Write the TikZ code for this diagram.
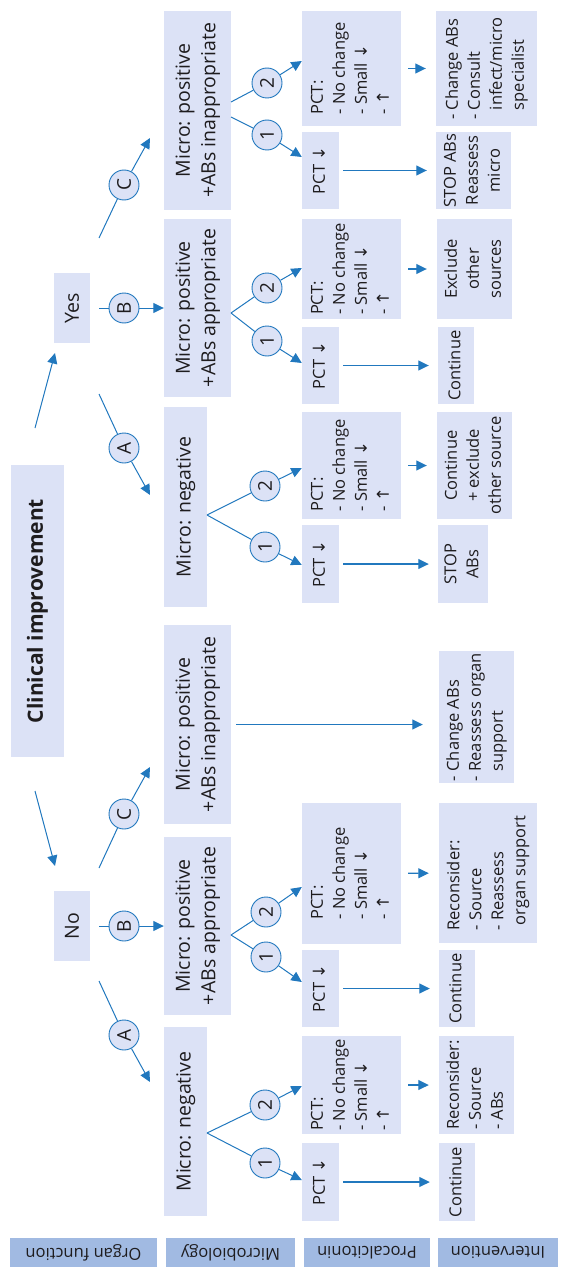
\documentclass[tikz,border=0pt]{standalone}
\usepackage{fontspec}
\setmainfont{Open Sans}
\newfontfamily\arrowsfont{DejaVu Sans}
\usepackage{graphicx}
\usetikzlibrary{arrows.meta}
\definecolor{boxfill}{RGB}{220,226,246}
\definecolor{labfill}{RGB}{161,186,226}
\definecolor{linecol}{RGB}{33,120,190}
\definecolor{txtcol}{RGB}{30,28,30}
\newcommand{\arrdn}{{\arrowsfont ↓}}
\newcommand{\arrup}{{\arrowsfont ↑}}
\newcommand{\hangsp}{\phantom{- }}
% text block turned to read upwards
\newcommand{\vtext}[2]{\rotatebox{90}{\begin{tabular}{@{}#1@{}}#2\end{tabular}}}
% box from its x and y extent: style, name, x1, x2, y1, y2, content
\newcommand{\placebox}[7]{%
  \pgfmathsetmacro{\bw}{#4-#3}\pgfmathsetmacro{\bh}{#6-#5}%
  \pgfmathsetmacro{\bcx}{(#3+#4)/2}\pgfmathsetmacro{\bcy}{(#5+#6)/2}%
  \node[#1, minimum width=\bw pt, minimum height=\bh pt] (#2) at (\bcx,\bcy) {#7};}
\begin{document}
\begin{tikzpicture}[x=1pt, y=-1pt,
  box/.style={fill=boxfill, inner sep=0pt, text=txtcol},
  lab/.style={fill=labfill, inner sep=0pt, text=txtcol, small},
  big/.style={font=\fontsize{19.5}{25.5}\selectfont},
  small/.style={font=\fontsize{16.5}{22}\selectfont},
  title/.style={font=\fontsize{21}{25}\selectfont\bfseries},
  circ/.style={circle, draw=linecol, fill=boxfill, line width=0.9pt, minimum size=30pt, inner sep=0pt, text=txtcol, font=\fontsize{19}{22}\selectfont},
  conn/.style={draw=linecol, line width=1pt},
  arr/.style={conn, -{Triangle[length=10.5pt,width=10pt]}},
  warr/.style={arr, line width=1.3pt, shorten <=4pt, shorten >=9pt},
  sarr/.style={arr, line width=1.3pt, shorten <=7pt, shorten >=10pt}]
\useasboundingbox (0,0) rectangle (560,1268);

% ---- first column: outcome ----
\placebox{box,title}{ci}{11}{64}{465}{757}{\rotatebox{90}{Clinical improvement}}
\placebox{box,big}{yes}{54}{90}{273}{343}{\rotatebox{90}{Yes}}
\placebox{box,big}{no}{54}{90}{891}{961}{\rotatebox{90}{No}}

\coordinate (ciYs) at (35,428); \coordinate (ciYe) at (55,353);
\coordinate (ciNs) at (35,791); \coordinate (ciNe) at (55,866);
\draw[arr] (ciYs) -- (ciYe);
\draw[arr] (ciNs) -- (ciNe);

% ---- microbiology ----
\placebox{box,big}{mYC}{164}{231}{11}{210}{\vtext{c}{Micro: positive\\+ABs inappropriate}}
\placebox{box,big}{mYB}{164}{231}{219}{397}{\vtext{c}{Micro: positive\\+ABs appropriate}}
\placebox{box,big}{mYA}{164}{207}{407}{607}{\vtext{c}{Micro: negative}}
\placebox{box,big}{mNC}{164}{231}{625}{824}{\vtext{c}{Micro: positive\\+ABs inappropriate}}
\placebox{box,big}{mNB}{164}{231}{837}{1015}{\vtext{c}{Micro: positive\\+ABs appropriate}}
\placebox{box,big}{mNA}{164}{207}{1027}{1216}{\vtext{c}{Micro: negative}}

% A / B / C branches
\node[circ] (yC) at (124,185) {\rotatebox{90}{C}};
\node[circ] (yB) at (124,308) {\rotatebox{90}{B}};
\node[circ] (yA) at (124,448) {\rotatebox{90}{A}};
\node[circ] (nC) at (124,814) {\rotatebox{90}{C}};
\node[circ] (nB) at (124,926) {\rotatebox{90}{B}};
\node[circ] (nA) at (124,1035) {\rotatebox{90}{A}};

\coordinate (yCs) at (99,238);  \coordinate (yCe) at (150,138);
\coordinate (yBs) at (99,308);
\coordinate (yAs) at (99,394);  \coordinate (yAe) at (150,495);
\coordinate (nCs) at (99,868);  \coordinate (nCe) at (150,767);
\coordinate (nBs) at (99,926);
\coordinate (nAs) at (99,981);  \coordinate (nAe) at (150,1082);

\draw[conn] (yCs) -- (yC); \draw[arr] (yC) -- (yCe);
\draw[conn] (yBs) -- (yB); \draw[arr] (yB) -- (mYB.west);
\draw[conn] (yAs) -- (yA); \draw[arr] (yA) -- (yAe);
\draw[conn] (nCs) -- (nC); \draw[arr] (nC) -- (nCe);
\draw[conn] (nBs) -- (nB); \draw[arr] (nB) -- (mNB.west);
\draw[conn] (nAs) -- (nA); \draw[arr] (nA) -- (nAe);

% ---- procalcitonin ----
\placebox{box,small}{pYC2}{302}{401}{11}{126}{\vtext{l}{PCT:\\- No change\\- Small \arrdn\\- \arrup}}
\placebox{box,small}{pYC1}{302}{339}{132}{209}{\vtext{c}{PCT \arrdn}}
\placebox{box,small}{pYB2}{302}{401}{219}{319}{\vtext{l}{PCT:\\- No change\\- Small \arrdn\\- \arrup}}
\placebox{box,small}{pYB1}{302}{339}{327}{404}{\vtext{c}{PCT \arrdn}}
\placebox{box,small}{pYA2}{302}{401}{412}{519}{\vtext{l}{PCT:\\- No change\\- Small \arrdn\\- \arrup}}
\placebox{box,small}{pYA1}{302}{339}{525}{603}{\vtext{c}{PCT \arrdn}}
\placebox{box,small}{pNB2}{302}{401}{803}{944}{\vtext{l}{PCT:\\- No change\\- Small \arrdn\\- \arrup}}
\placebox{box,small}{pNB1}{302}{339}{950}{1027}{\vtext{c}{PCT \arrdn}}
\placebox{box,small}{pNA2}{302}{401}{1036}{1134}{\vtext{l}{PCT:\\- No change\\- Small \arrdn\\- \arrup}}
\placebox{box,small}{pNA1}{302}{339}{1143}{1221}{\vtext{c}{PCT \arrdn}}

% 1 / 2 branches
\node[circ] (yC2) at (267,83)   {\rotatebox{90}{2}};
\node[circ] (yC1) at (267,135)  {\rotatebox{90}{1}};
\node[circ] (yB2) at (267,288)  {\rotatebox{90}{2}};
\node[circ] (yB1) at (267,341)  {\rotatebox{90}{1}};
\node[circ] (yA2) at (265,486)  {\rotatebox{90}{2}};
\node[circ] (yA1) at (265,547)  {\rotatebox{90}{1}};
\node[circ] (nB2) at (266,912)  {\rotatebox{90}{2}};
\node[circ] (nB1) at (266,957)  {\rotatebox{90}{1}};
\node[circ] (nA2) at (265,1105) {\rotatebox{90}{2}};
\node[circ] (nA1) at (265,1163) {\rotatebox{90}{1}};

\coordinate (yCfa) at (231,102); \coordinate (yCfb) at (231,117);
\coordinate (yBf) at (231,313);
\coordinate (yAf) at (207,515);
\coordinate (nBf) at (231,935);
\coordinate (nAf) at (207,1133);

\draw[conn] (yCfa) -- (yC2); \draw[arr] (yC2) -- (pYC2.west |- 0,61);
\draw[conn] (yCfb) -- (yC1); \draw[arr] (yC1) -- (pYC1.west |- 0,157);
\draw[conn] (yBf) -- (yB2);  \draw[arr] (yB2) -- (pYB2.west |- 0,268);
\draw[conn] (yBf) -- (yB1);  \draw[arr] (yB1) -- (pYB1.west |- 0,363);
\draw[conn] (yAf) -- (yA2);  \draw[arr] (yA2) -- (pYA2.west |- 0,468);
\draw[conn] (yAf) -- (yA1);  \draw[arr] (yA1) -- (pYA1.west |- 0,565);
\draw[conn] (nBf) -- (nB2);  \draw[arr] (nB2) -- (pNB2.west |- 0,887);
\draw[conn] (nBf) -- (nB1);  \draw[arr] (nB1) -- (pNB1.west |- 0,982);
\draw[conn] (nAf) -- (nA2);  \draw[arr] (nA2) -- (pNA2.west |- 0,1086);
\draw[conn] (nAf) -- (nA1);  \draw[arr] (nA1) -- (pNA1.west |- 0,1180);

% ---- intervention ----
\placebox{box,small}{iYC2}{436}{537}{11}{126}{\vtext{l}{- Change ABs\\- Consult\\\hangsp infect/micro\\\hangsp specialist}}
\placebox{box,small}{iYC1}{436}{511}{132}{209}{\vtext{c}{STOP ABs\\Reassess\\micro}}
\placebox{box,small}{iYB2}{437}{512}{219}{319}{\vtext{c}{Exclude\\other\\sources}}
\placebox{box,small}{iYB1}{438}{474}{327}{404}{\vtext{c}{Continue}}
\placebox{box,small}{iYA2}{437}{512}{412}{519}{\vtext{c}{Continue\\+ exclude\\other source}}
\placebox{box,small}{iYA1}{438}{488}{525}{603}{\vtext{c}{STOP\\ABs}}
\placebox{box,small}{iNC}{439}{514}{651}{783}{\vtext{l}{- Change ABs\\- Reassess organ\\\hangsp support}}
\placebox{box,small}{iNB2}{439}{537}{803}{943}{\vtext{l}{Reconsider:\\- Source\\- Reassess\\\hspace{5pt}organ support}}
\placebox{box,small}{iNB1}{439}{475}{950}{1027}{\vtext{c}{Continue}}
\placebox{box,small}{iNA2}{439}{514}{1036}{1134}{\vtext{l}{Reconsider:\\- Source\\- ABs}}
\placebox{box,small}{iNA1}{439}{475}{1143}{1221}{\vtext{c}{Continue}}

\draw[sarr] (pYC2) -- (iYC2);
\draw[warr] (pYC1) -- (iYC1);
\draw[sarr] (pYB2) -- (iYB2);
\draw[warr] (pYB1) -- (iYB1);
\draw[sarr] (pYA2) -- (iYA2);
\draw[warr] (pYA1) -- (iYA1);
\draw[arr, line width=1.3pt, shorten <=5pt, shorten >=16pt] (mNC.east) -- (mNC.east -| iNC.west);
\draw[sarr] (pNB2) -- (iNB2);
\draw[warr] (pNB1) -- (iNB1);
\draw[sarr] (pNA2) -- (iNA2);
\draw[warr] (pNA1) -- (iNA1);

% ---- row labels ----
\placebox{lab}{lOF}{10}{157}{1238}{1267}{\rotatebox{180}{Organ function}}
\placebox{lab}{lMB}{166}{295}{1238}{1267}{\rotatebox{180}{Microbiology}}
\placebox{lab}{lPC}{304}{430}{1238}{1267}{\rotatebox{180}{Procalcitonin}}
\placebox{lab}{lIN}{438}{558}{1238}{1267}{\rotatebox{180}{Intervention}}
\end{tikzpicture}
\end{document}
